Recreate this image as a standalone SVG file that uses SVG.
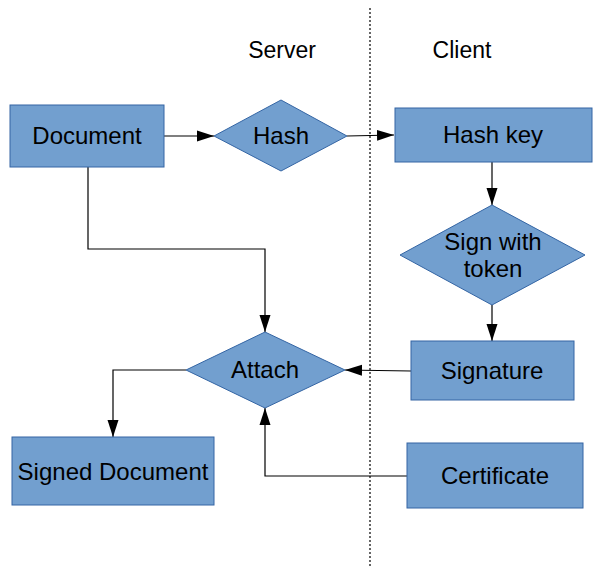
<svg xmlns="http://www.w3.org/2000/svg" width="608" height="567" viewBox="0 0 608 567">
<style>
.n{fill:#729fcf;stroke:#3465a4;stroke-width:1}
.t{font-family:"Liberation Sans",Arial,sans-serif;font-size:24px;fill:#000;text-anchor:middle}
.c{fill:none;stroke:#000;stroke-width:1.2}
.d{stroke:#000;stroke-width:1.2;stroke-dasharray:2,2}
</style>
<defs>
<marker id="a" markerUnits="userSpaceOnUse" markerWidth="17" markerHeight="12" refX="17" refY="6" orient="auto">
<path d="M0,0.5 L17,6 L0,11.5 z" fill="#000"/>
</marker>
</defs>
<rect width="608" height="567" fill="#fff"/>
<line class="d" x1="370" y1="8" x2="370" y2="567"/>
<text class="t" x="282" y="58" style="font-size:23px">Server</text>
<text class="t" x="462" y="58" style="font-size:23px">Client</text>
<g id="connectors">
<path class="c" d="M164,136 H214" marker-end="url(#a)"/>
<path class="c" d="M347,136 L394,135" marker-end="url(#a)"/>
<path class="c" d="M492,162 V205" marker-end="url(#a)"/>
<path class="c" d="M492,305 V341" marker-end="url(#a)"/>
<path class="c" d="M88,167 V249 H265 V332" marker-end="url(#a)"/>
<path class="c" d="M411,371 L345,370" marker-end="url(#a)"/>
<path class="c" d="M186,370 H113 V437" marker-end="url(#a)"/>
<path class="c" d="M407,476 H265 V408" marker-end="url(#a)"/>
</g>
<g id="document"><rect class="n" x="10" y="105" width="154" height="62"/><text class="t" x="87" y="144">Document</text></g>
<g id="hash"><polygon class="n" points="281,100 347,136 281,171 214,136"/><text class="t" x="281" y="144">Hash</text></g>
<g id="hashkey"><rect class="n" x="395" y="108" width="197" height="54"/><text class="t" x="493" y="143">Hash key</text></g>
<g id="sign"><polygon class="n" points="492,205 585,255 492,305 400,255"/><text class="t" x="493" y="250">Sign with</text><text class="t" x="493" y="277">token</text></g>
<g id="signature"><rect class="n" x="411" y="341" width="163" height="59"/><text class="t" x="492" y="379">Signature</text></g>
<g id="attach"><polygon class="n" points="265,332 345,370 265,408 186,370"/><text class="t" x="265" y="378">Attach</text></g>
<g id="signeddoc"><rect class="n" x="12" y="437" width="202" height="68"/><text class="t" x="113" y="480">Signed Document</text></g>
<g id="certificate"><rect class="n" x="407" y="443" width="176" height="65"/><text class="t" x="495" y="484">Certificate</text></g>
</svg>
